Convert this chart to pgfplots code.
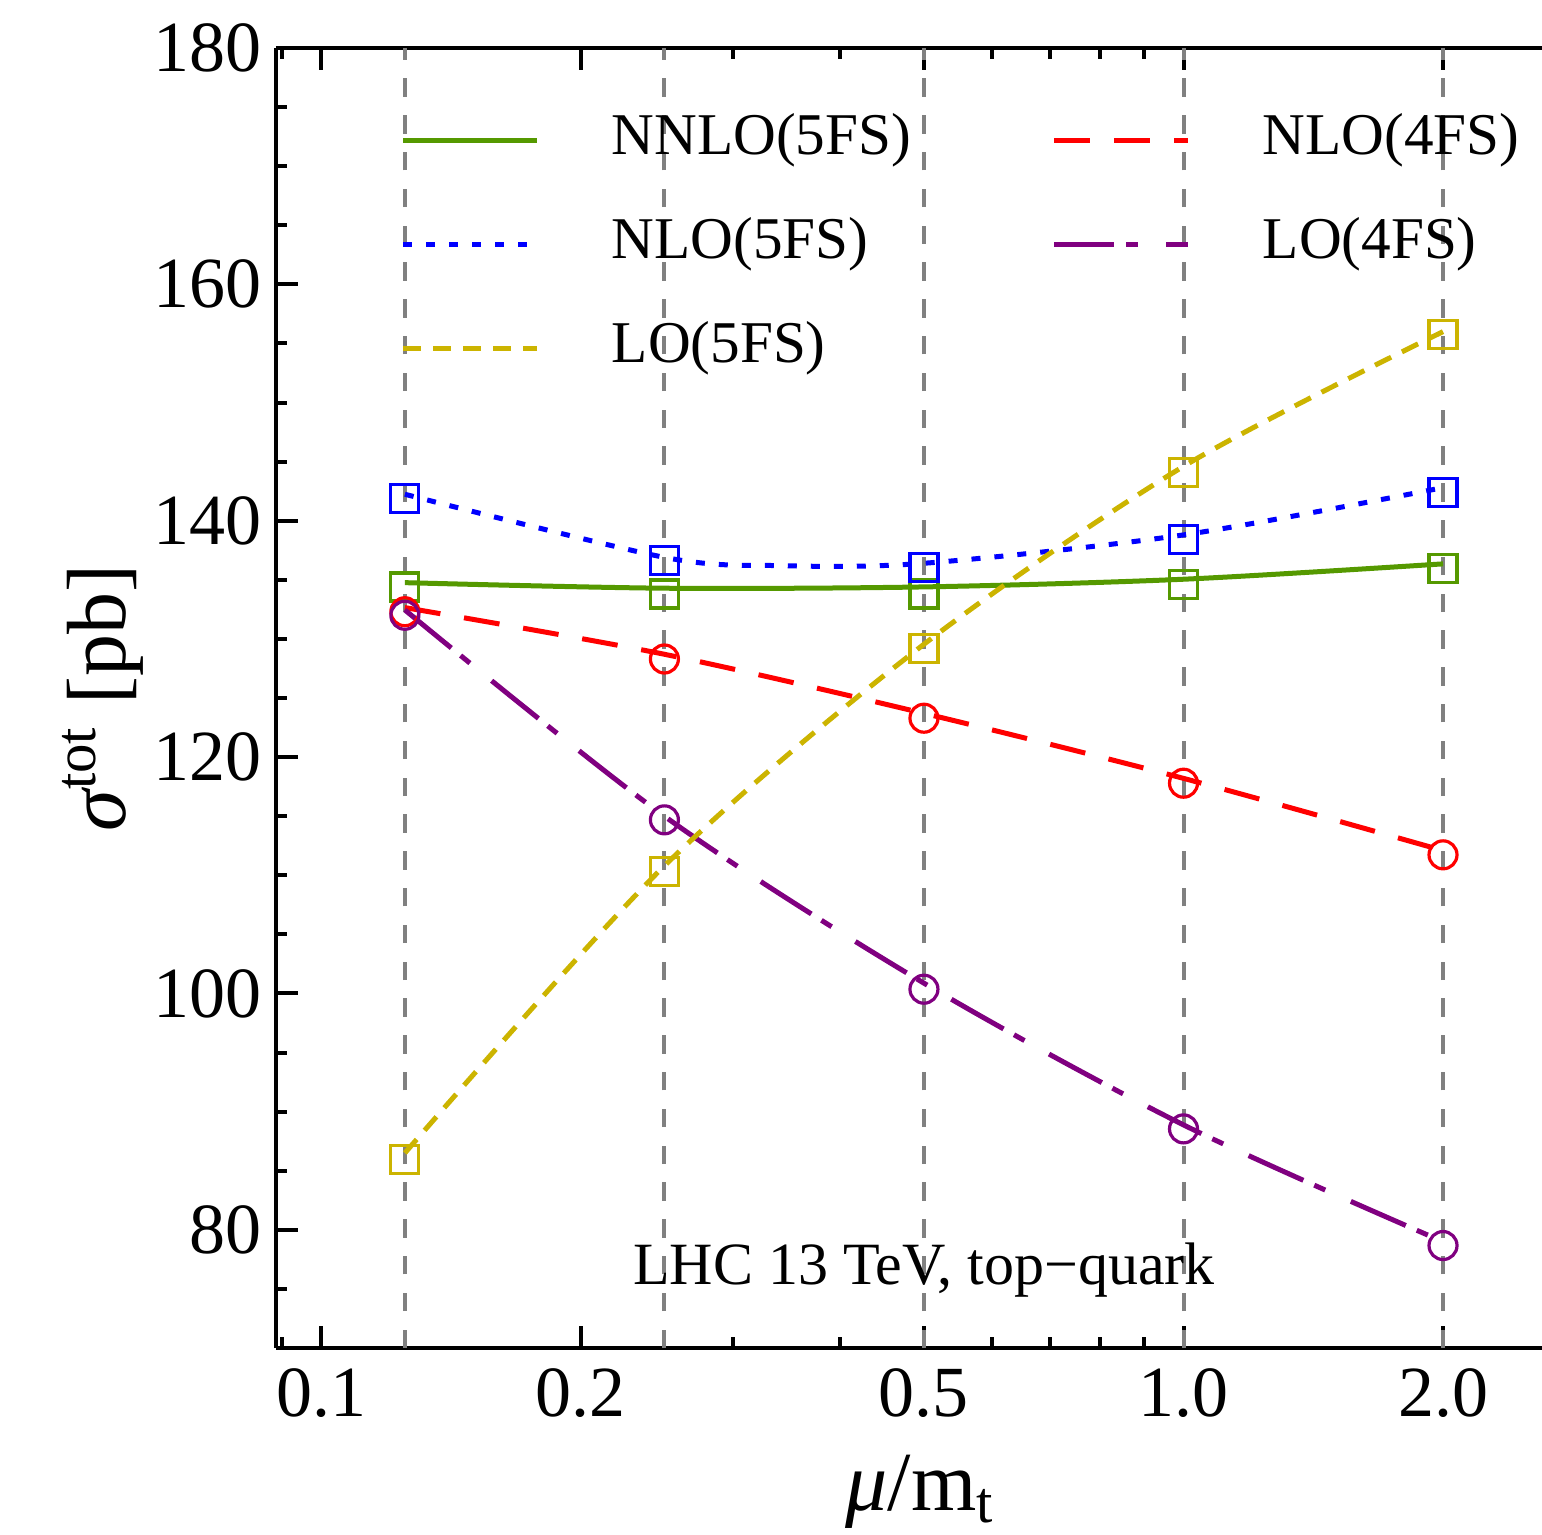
\documentclass[border=0pt]{standalone}
\usepackage{fontspec}
\setmainfont{Liberation Serif}
\usepackage{pgfplots}
\pgfplotsset{compat=1.18}
\usetikzlibrary{calc}

\definecolor{nnlogreen}{RGB}{85,153,0}
\definecolor{loyellow}{RGB}{204,180,0}
\definecolor{lopurple}{RGB}{128,0,128}

\begin{document}
\begin{tikzpicture}
\begin{axis}[
  scale only axis,
  width=316.5pt, height=325pt,
  xmode=log,
  xmin=0.0886, xmax=2.605,
  ymin=70, ymax=180,
  axis x line*=box, axis y line*=left,
  axis line style={line width=1.1pt},
  xtick={0.1,0.2,0.5,1,2},
  xticklabels={0.1,0.2,0.5,1.0,2.0},
  minor xtick={0.09,0.3,0.4,0.6,0.7,0.8,0.9},
  ytick={80,100,120,140,160,180},
  minor ytick={75,85,90,95,105,110,115,125,130,135,145,150,155,165,170,175},
  tick align=inside,
  major tick length=5.5pt, minor tick length=2.7pt,
  every tick/.style={black, line width=1pt},
  tick label style={font=\fontsize{18}{20}\selectfont},
  xticklabel style={inner ysep=5pt},
  yticklabel style={inner xsep=3.5pt},
  /pgf/number format/assume math mode=true,
  xlabel={{\itshape μ}/m\textsubscript{t}},
  ylabel={{\itshape σ}\textsuperscript{tot} [pb]},
  label style={font=\fontsize{21}{24}\selectfont},
  xlabel style={at={(axis description cs:0.509,0)}, anchor=base, yshift=-40.5pt},
  ylabel style={at={(axis description cs:-0.137,0.5)}, anchor=center},
  legend columns=2,
  legend cell align=left,
  legend style={draw=none, fill=none, inner sep=0pt,
    at={(axis description cs:0.098,0.9492)}, anchor=north west,
    font=\fontsize{14.8}{17}\selectfont,
    row sep=12.9pt,
    nodes={inner sep=0pt, text height=10pt, text depth=3pt, text width=76pt, align=left},
    /tikz/every odd column/.style={column sep=18pt},
    /tikz/every even column/.style={column sep=34pt}},
  legend image code/.code={\draw[#1] (0pt,0pt) -- (33.5pt,0pt);},
  gridv/.style={gray, line width=1pt, dash pattern=on 4.6pt off 4.6pt, forget plot},
  sq/.style={only marks, mark=square, mark size=3.5pt, mark options={solid, line width=0.8pt, fill=none}, forget plot},
  ci/.style={only marks, mark=o, mark size=3.5pt, mark options={solid, line width=0.8pt, fill=none}, forget plot},
]
% vertical reference lines
\addplot[gridv] coordinates {(0.125,70) (0.125,180)};
\addplot[gridv] coordinates {(0.25,70) (0.25,180)};
\addplot[gridv] coordinates {(0.5,70) (0.5,180)};
\addplot[gridv] coordinates {(1,70) (1,180)};
\addplot[gridv] coordinates {(2,70) (2,180)};

% lines (legend order fills rows of two)
\addplot[nnlogreen, line width=1.25pt, smooth, no markers]
  coordinates {(0.125,134.76) (0.25,134.29) (0.5,134.40) (1,135.05) (2,136.35)};
\addlegendentry{NNLO(5FS)}
\addplot[red, line width=1.25pt, dash pattern=on 9pt off 6pt, smooth, no markers]
  coordinates {(0.125,132.65) (0.25,128.7) (0.5,123.7) (1,118.2) (2,112.09)};
\addlegendentry{NLO(4FS)}
\addplot[blue, line width=1.25pt, dash pattern=on 2.25pt off 3.5pt, smooth, no markers]
  coordinates {(0.125,142.24) (0.25,136.9) (0.34,136.2) (0.5,136.4) (1,138.8) (2,142.8)};
\addlegendentry{NLO(5FS)}
\addplot[lopurple, line width=1.25pt, dash pattern=on 15pt off 3pt on 3pt off 7pt, smooth, no markers]
  coordinates {(0.125,132.45) (0.25,115.0) (0.5,100.87) (1,88.88) (2,79.0)};
\addlegendentry{LO(4FS)}
\addplot[loyellow, line width=1.25pt, dash pattern=on 4.5pt off 3pt, smooth, no markers]
  coordinates {(0.125,86.5) (0.25,110.8) (0.5,129.55) (1,144.6) (2,156.0)};
\addlegendentry{LO(5FS)}

% computed points
\addplot[sq, nnlogreen] coordinates {(0.125,134.4) (0.25,133.8) (0.5,133.8) (1,134.6) (2,135.98)};
\addplot[sq, blue] coordinates {(0.125,141.85) (0.25,136.63) (0.5,136.07) (1,138.38) (2,142.41)};
\addplot[sq, loyellow] coordinates {(0.125,85.92) (0.25,110.3) (0.5,129.21) (1,144.07) (2,155.78)};
\addplot[ci, red] coordinates {(0.125,132.3) (0.25,128.3) (0.5,123.29) (1,117.79) (2,111.73)};
\addplot[ci, lopurple] coordinates {(0.125,132.0) (0.25,114.69) (0.5,100.36) (1,88.54) (2,78.67)};

\node[anchor=base, font=\fontsize{15}{18}\selectfont] at (axis cs:0.5,75.35) {LHC 13 TeV, top−quark};

\coordinate (bbsw) at (rel axis cs:0,0);
\coordinate (bbne) at (rel axis cs:1,1);
\end{axis}
\pgfresetboundingbox
\path ($(bbsw)+(-69pt,-46.5pt)$) rectangle ($(bbne)+(0pt,12pt)$);
\end{tikzpicture}
\end{document}
